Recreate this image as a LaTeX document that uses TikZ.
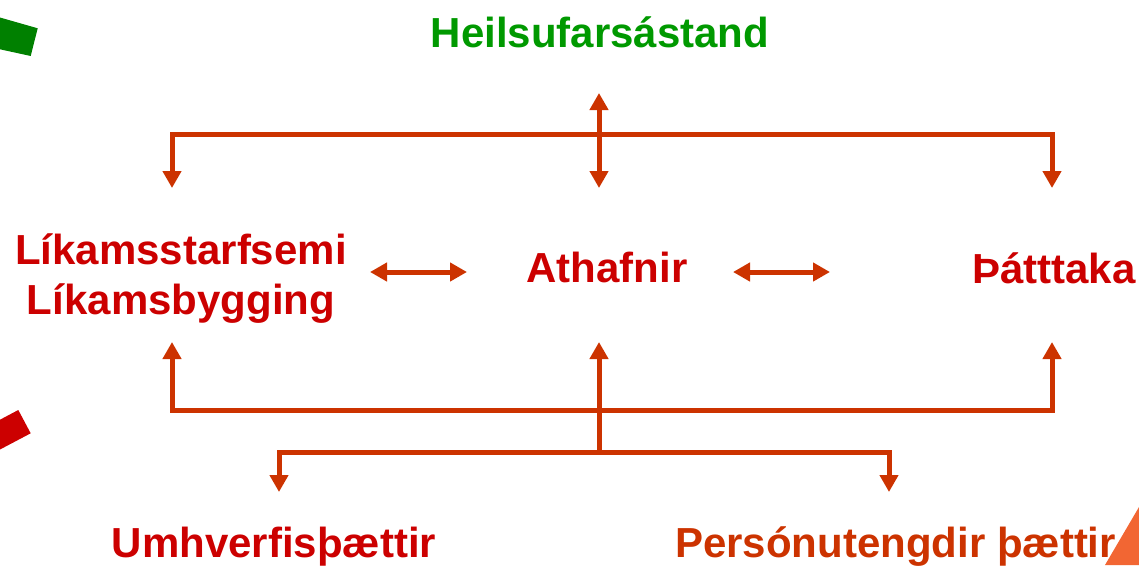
\documentclass[tikz,border=0pt]{standalone}
\usepackage{fontspec}
\setmainfont{Liberation Sans}
\usepackage{xcolor}
\usepackage{tikz}
\usetikzlibrary{positioning}
\usetikzlibrary{arrows.meta}
\tikzset{>={Triangle[width=18pt,length=17pt]}}
\definecolor{arrowred}{RGB}{204,51,0}
\definecolor{textred}{RGB}{204,0,0}
\definecolor{textgreen}{RGB}{0,153,0}
\definecolor{boxgreen}{RGB}{0,128,0}
\definecolor{cornerorange}{RGB}{242,102,51}
\tikzstyle{line} = [draw, arrowred, line width=5pt]

\begin{document}
\begin{tikzpicture}[x=1pt, y=-1pt,
      term/.style={inner sep=0pt,
      font=\fontsize{42}{50}\selectfont\bfseries,
      textred}]
    \useasboundingbox (0,0) rectangle (1139,565);
    %% corner shapes
    \fill [boxgreen] (0,17.5) -- (37.7,28.3) -- (30.7,56) -- (0,49.3) -- cycle;
    \fill [textred] (0,419.7) -- (18.3,410) -- (30.7,433.3) -- (0,449.5) -- cycle;
    \node [term, textgreen, anchor=base] (health) at (600,47) {Heilsufarsástand};
    \node [term, align=center] (body) at (181,279) {Líkamsstarfsemi\\Líkamsbygging};
    \node [term, anchor=base] (activity) at (607,282) {Athafnir};
    \node [term, anchor=base] (participation) at (1054,283) {Þátttaka};
    \node [term, anchor=base] (environment) at (274,557) {Umhverfisþættir};
    \node [term, arrowred, anchor=base] (personal) at (895.5,557) {Persónutengdir þættir};
    \coordinate (upTip) at (599,93);
    \coordinate (tophub) at (599,134);
    \coordinate (downTip) at (599,188);
    \coordinate (topL) at (172,188);
    \coordinate (topR) at (1052,188);
    \coordinate (botL) at (172,342);
    \coordinate (botR) at (1052,342);
    \coordinate (midTip) at (599,342);
    \coordinate (lowhub) at (599,410);
    \coordinate (root) at (599,452);
    \coordinate (envTip) at (279,492);
    \coordinate (persTip) at (889,492);
    \coordinate (a1) at (370,272);
    \coordinate (a2) at (467,272);
    \coordinate (b1) at (733,272);
    \coordinate (b2) at (830,272);
    %% Links
    \path [line, <->] (upTip) -- (downTip);
    \path [line, <->] (topL) |- (tophub) -| (topR);
    \path [line, <->] (a1) -- (a2);
    \path [line, <->] (b1) -- (b2);
    \path [line, <->] (botL) |- (lowhub) -| (botR);
    \path [line, ->] (root) -- (midTip);
    \path [line, <->] (envTip) |- (root) -| (persTip);
    \fill [cornerorange] (1105,565) -- (1139,507) -- (1139,565) -- cycle;
  \end{tikzpicture}
\end{document}
